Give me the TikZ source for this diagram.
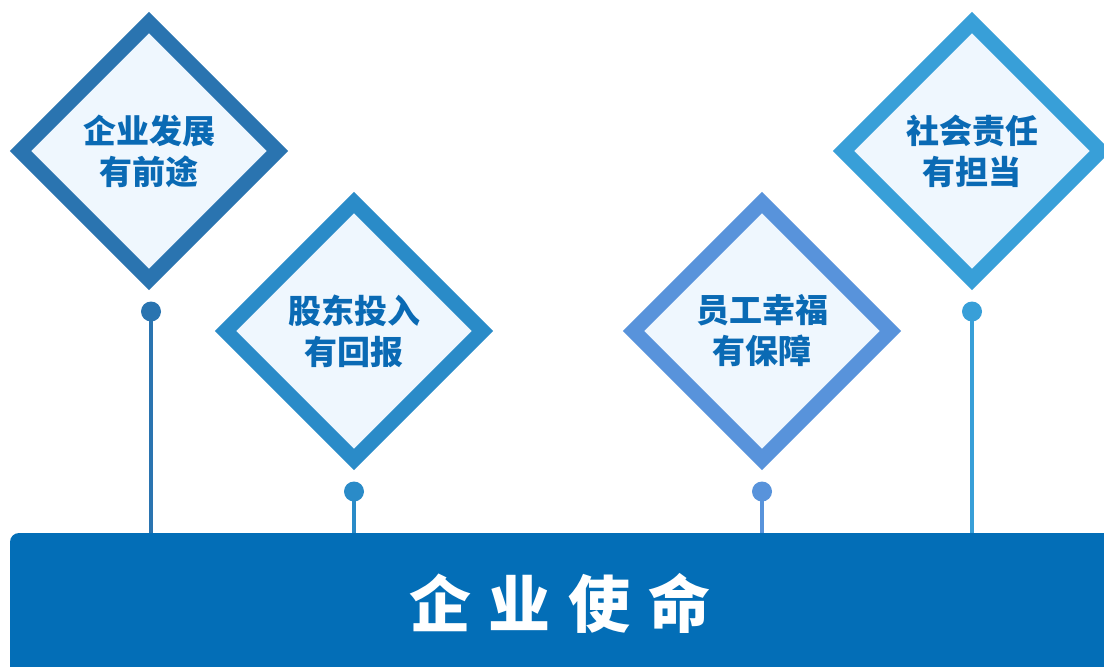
\documentclass[tikz,border=0pt]{standalone}
\usepackage{fontspec}
\newfontfamily\cjk{Noto Sans CJK SC}
\usepackage{tikz}
\usetikzlibrary{shapes.geometric,positioning}
\definecolor{RimDeep}{HTML}{2A74B0}
\definecolor{RimMid}{HTML}{2A8BC8}
\definecolor{RimSoft}{HTML}{5893DB}
\definecolor{RimSky}{HTML}{389FD8}
\definecolor{GemBg}{HTML}{EFF7FE}
\definecolor{InkBlue}{HTML}{0A6AB4}
\definecolor{BarBlue}{HTML}{036EB7}

\begin{document}
\begin{tikzpicture}[
  x=1pt, y=-1pt,
  gem/.style={diamond, aspect=1, draw=#1, line width=15pt, fill=GemBg, minimum width=257pt, minimum height=257pt, inner sep=0pt, outer sep=0pt, align=center, text=InkBlue, font=\cjk\bfseries\fontsize{33pt}{41pt}\selectfont},
  bead/.style={circle, fill=#1, minimum size=20pt, inner sep=0pt, outer sep=0pt},
  stem/.style={line width=4pt, #1},
  bar/.style={rectangle, rounded corners=9pt, fill=BarBlue, minimum width=1114pt, minimum height=156pt, outer sep=0pt},
  title/.style={text=white, font=\cjk\bfseries\fontsize{62pt}{70pt}\selectfont}
]
\useasboundingbox (0,0) rectangle (1104,667);

% Mission bar
\node[bar] (bar) at (567,611) {};
\node[title] (title) at (560,603) {企\hspace{18pt}业\hspace{18pt}使\hspace{18pt}命};

% Diamonds
\node[gem=RimDeep] (growth) at (149,151) {企业发展\\有前途};
\node[gem=RimMid] (holders) at (354,331) {股东投入\\有回报};
\node[gem=RimSoft] (staff) at (762,331) {员工幸福\\有保障};
\node[gem=RimSky] (society) at (972,151) {社会责任\\有担当};

% Beads
\node[bead=RimDeep, below=22pt of growth, xshift=2pt] (bgrowth) {};
\node[bead=RimMid, below=22pt of holders] (bholders) {};
\node[bead=RimSoft, below=22pt of staff] (bstaff) {};
\node[bead=RimSky, below=22pt of society] (bsociety) {};

% Stems
\draw[stem=RimDeep] (bgrowth.center) -- (bgrowth |- bar.north);
\draw[stem=RimMid] (bholders.center) -- (bholders |- bar.north);
\draw[stem=RimSoft] (bstaff.center) -- (bstaff |- bar.north);
\draw[stem=RimSky] (bsociety.center) -- (bsociety |- bar.north);

\end{tikzpicture}
\end{document}
